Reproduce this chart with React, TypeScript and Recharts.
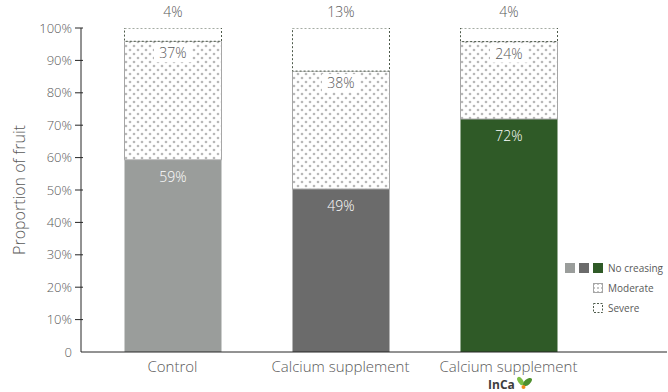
import { Bar, BarChart, Cell, LabelList, XAxis, YAxis } from 'recharts'

const categories = ['Control', 'Calcium supplement', 'Calcium supplement']
const noCreasing = [59.3, 50.3, 71.9]
const moderate = [36.6, 36.4, 23.9]
const severe = [4.1, 13.3, 4.2]
const noCreasingLabels = ['59%', '49%', '72%']
const moderateLabels = ['37%', '38%', '24%']
const severeLabels = ['4%', '13%', '4%']
const barColors = ['#9a9d9b', '#6b6b6b', '#2f5a27']
const yTicks = [0, 10, 20, 30, 40, 50, 60, 70, 80, 90, 100]

const data = categories.map((name, i) => ({
  id: i,
  name,
  noCreasing: noCreasing[i],
  moderate: moderate[i],
  severe: severe[i],
}))

const font = "'Open Sans', sans-serif"
const textColor = '#595959'

function YTick(props: any) {
  const { x, y, payload } = props
  const v = payload.value
  return (
    <g>
      {v !== 0 && <line x1={x} x2={x + 8} y1={y} y2={y} stroke='#262626' strokeWidth={1} />}
      <text x={x - 3} y={y} dy={4.5} textAnchor='end' fontSize={13} fontWeight={300} fill={textColor} fontFamily={font}>
        {v === 0 ? '0' : `${v}%`}
      </text>
    </g>
  )
}

function XTick(props: any) {
  const { x, y, payload } = props
  const i = payload.value as number
  return (
    <g>
      <text x={x} y={y + 12} textAnchor='middle' fontSize={15} fontWeight={300} fill={textColor} fontFamily={font}>
        {categories[i]}
      </text>
      {i === 2 && (
        <g>
          <text x={x - 7} y={y + 29} textAnchor='middle' fontSize={12} fontWeight={700} fill='#3d3d3d' fontFamily={font}>
            InCa
          </text>
          <ellipse cx={x + 12} cy={y + 21} rx={2.4} ry={4.6} fill='#7cbf45' transform={`rotate(-35 ${x + 12} ${y + 21})`} />
          <ellipse cx={x + 19} cy={y + 22} rx={2.8} ry={5.4} fill='#4e8f2e' transform={`rotate(50 ${x + 19} ${y + 22})`} />
          <circle cx={x + 15} cy={y + 27} r={2} fill='#f08a1c' />
        </g>
      )}
    </g>
  )
}

function NoCreasingLabel(props: any) {
  const { x, y, width, index } = props
  return (
    <text x={x + width / 2} y={y + 17} dy={5} textAnchor='middle' fontSize={14} fontWeight={300} fill='#ffffff' fontFamily={font}>
      {noCreasingLabels[index]}
    </text>
  )
}

function ModerateLabel(props: any) {
  const { x, y, width, index } = props
  const cx = x + width / 2
  return (
    <g>
      <rect x={cx - 19} y={y + 3} width={38} height={18} fill='#ffffff' />
      <text x={cx} y={y + 12} dy={5} textAnchor='middle' fontSize={14} fontWeight={300} fill={textColor} fontFamily={font}>
        {moderateLabels[index]}
      </text>
    </g>
  )
}

function SevereLabel(props: any) {
  const { x, y, width, index } = props
  return (
    <text x={x + width / 2} y={y - 16} dy={5} textAnchor='middle' fontSize={14} fontWeight={300} fill={textColor} fontFamily={font}>
      {severeLabels[index]}
    </text>
  )
}

function LegendBox() {
  const lbl = { fontSize: 10, fill: textColor, fontFamily: font } as const
  return (
    <svg width={110} height={60} style={{ position: 'absolute', left: 560, top: 258 }}>
      <rect x={5} y={5} width={10} height={10} fill={barColors[0]} />
      <rect x={19} y={5} width={10} height={10} fill={barColors[1]} />
      <rect x={33} y={5} width={10} height={10} fill={barColors[2]} />
      <text x={48} y={14} {...lbl}>No creasing</text>
      <rect x={33.5} y={25.5} width={9} height={9} fill='url(#dotsLegend)' stroke='#a6a6a6' />
      <text x={48} y={34} {...lbl}>Moderate</text>
      <rect x={33.5} y={45.5} width={9} height={9} fill='#ffffff' stroke='#4d5a4a' strokeDasharray='2 1.5' />
      <text x={48} y={54} {...lbl}>Severe</text>
      <defs>
        <pattern id='dotsLegend' width={4} height={4} patternUnits='userSpaceOnUse'>
          <rect width={4} height={4} fill='#ffffff' />
          <circle cx={2} cy={2} r={1} fill='#b5b5b5' />
        </pattern>
      </defs>
    </svg>
  )
}

export default function App() {
  return (
    <div style={{ position: 'absolute', left: 0, top: 0, width: 668, height: 392, background: '#fff' }}>
      <BarChart width={668} height={392} data={data} margin={{ top: 28, right: 1, bottom: 0, left: 0 }} barSize={97}>
        <defs>
          <pattern id='dots' width={8} height={8} patternUnits='userSpaceOnUse'>
            <rect width={8} height={8} fill='#ffffff' />
            <circle cx={2} cy={2} r={1.3} fill='#b8b8b8' />
            <circle cx={6} cy={6} r={1.3} fill='#b8b8b8' />
          </pattern>
        </defs>
        <XAxis
          dataKey='id'
          height={40}
          tickLine={false}
          axisLine={{ stroke: '#262626' }}
          tick={<XTick />}
          padding={{ left: 7.5, right: 74.5 }}
          interval={0}
        />
        <YAxis
          width={81}
          domain={[0, 100]}
          ticks={yTicks}
          tickLine={false}
          axisLine={{ stroke: '#262626' }}
          tick={<YTick />}
          tickMargin={0}
          allowDataOverflow
        />
        <Bar dataKey='noCreasing' stackId='a' isAnimationActive={false}>
          {data.map((d, i) => (
            <Cell key={d.id} fill={barColors[i]} />
          ))}
          <LabelList dataKey='noCreasing' content={<NoCreasingLabel />} />
        </Bar>
        <Bar dataKey='moderate' stackId='a' fill='url(#dots)' stroke='#a6a6a6' strokeWidth={1} isAnimationActive={false}>
          <LabelList dataKey='moderate' content={<ModerateLabel />} />
        </Bar>
        <Bar dataKey='severe' stackId='a' fill='#ffffff' stroke='#4d5a4a' strokeWidth={1} strokeDasharray='2 2' isAnimationActive={false}>
          <LabelList dataKey='severe' content={<SevereLabel />} />
        </Bar>
      </BarChart>
      <div
        style={{
          position: 'absolute',
          left: 19,
          top: 190,
          transform: 'translate(-50%, -50%) rotate(-90deg)',
          fontFamily: font,
          fontWeight: 300,
          fontSize: 16,
          color: textColor,
          whiteSpace: 'nowrap',
        }}
      >
        Proportion of fruit
      </div>
      <LegendBox />
    </div>
  )
}
